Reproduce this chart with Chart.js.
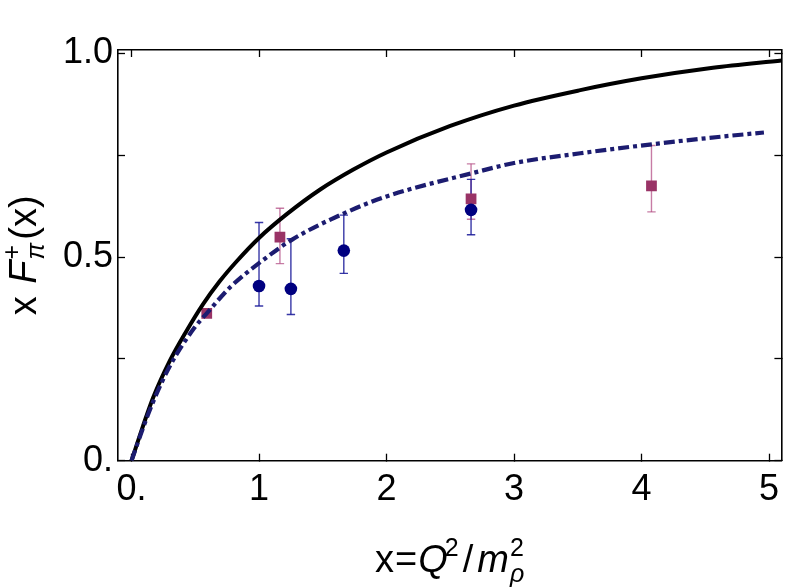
<!DOCTYPE html>
<html><head><meta charset="utf-8">
<script src="https://cdn.jsdelivr.net/npm/chart.js@4.4.0/dist/chart.umd.min.js"></script>
<style>html,body{margin:0;padding:0;background:#fff;}canvas{display:block;}</style>
</head><body>
<canvas id="c" width="789" height="587"></canvas>
<script>
// ---- axes ----
const xTicks = [0, 1, 2, 3, 4, 5];
const xTickLabels = ['0.', '1', '2', '3', '4', '5'];
const yTicks = [0, 0.25, 0.5, 0.75, 1.0];
const yTickLabels = ['0.', '', '0.5', '', '1.0'];
const xRange = [-0.106, 5.097];
const yRange = [0, 1.0086];

// ---- solid black curve ----
const solidX = [0, 0.09, 0.17, 0.3, 0.43, 0.56, 0.69, 0.82, 1.0, 1.22, 1.48, 1.74, 2.0, 2.5, 3.0, 3.52, 4.0, 4.56, 5.1];
const solidY = [0, 0.085, 0.155, 0.245, 0.318, 0.384, 0.440, 0.488, 0.547, 0.606, 0.666, 0.715, 0.757, 0.822, 0.872, 0.910, 0.939, 0.965, 0.983];

// ---- dash-dotted blue curve ----
const dashX = [0, 0.09, 0.17, 0.3, 0.49, 0.59, 0.78, 1.0, 1.26, 1.67, 2.0, 2.67, 3.0, 3.52, 4.08, 4.6, 4.96];
const dashY = [0, 0.08, 0.145, 0.232, 0.325, 0.362, 0.428, 0.485, 0.543, 0.608, 0.649, 0.706, 0.731, 0.755, 0.777, 0.795, 0.806];

// ---- circles (navy) ----
const circX  = [1.0, 1.25, 1.665, 2.663];
const circY  = [0.429, 0.422, 0.516, 0.616];
const circLo = [0.380, 0.359, 0.460, 0.555];
const circHi = [0.585, 0.545, 0.603, 0.691];

// ---- squares (magenta) ----
const sqX  = [0.59, 1.164, 2.663, 4.078];
const sqY  = [0.362, 0.549, 0.643, 0.675];
const sqLo = [0.354, 0.484, 0.593, 0.611];
const sqHi = [0.370, 0.620, 0.729, 0.774];

function pts(xs, ys) { return xs.map((x, i) => ({x: x, y: ys[i]})); }
function errPts(xs, lo, hi) {
  const out = [];
  xs.forEach((x, i) => { out.push({x: x, y: lo[i]}, {x: x, y: hi[i]}, {x: x, y: null}); });
  return out;
}

const FAM = "'Liberation Sans', Arial, sans-serif";
const TICKFONT = {family: FAM, size: 36};

function fixBox(size, horiz) {
  return function (s) {
    if (horiz) s.height = size; else s.width = size;
    s.paddingLeft = s.paddingRight = s.paddingTop = s.paddingBottom = 0;
  };
}
const tickGrid = {drawOnChartArea: false, drawTicks: true, tickLength: -7, tickColor: '#000', tickWidth: 1.3};
const border = {display: true, color: '#000', width: 1.6};

function drawPieces(ctx, pieces, cx, baseY) {
  let total = 0;
  const widths = pieces.map(p => {
    if (p.stack) {
      let w = 0;
      p.stack.forEach(q => { ctx.font = q.font; w = Math.max(w, ctx.measureText(q.t).width); });
      return w + (p.gap || 0);
    }
    ctx.font = p.font; return ctx.measureText(p.t).width + (p.gap || 0);
  });
  widths.forEach(w => total += w);
  let x = cx - total / 2;
  pieces.forEach((p, i) => {
    const list = p.stack ? p.stack : [p];
    list.forEach(q => { ctx.font = q.font; ctx.fillText(q.t, x + (q.dx || 0), baseY + (q.dy || 0)); });
    x += widths[i];
  });
}

const titlePlugin = {
  id: 'titles',
  afterDraw(chart) {
    const ctx = chart.ctx, a = chart.chartArea;
    const F = 38, S = 25;
    const n = F + 'px ' + FAM, it = 'italic ' + F + 'px ' + FAM;
    const sn = S + 'px ' + FAM, sit = 'italic ' + S + 'px ' + FAM;
    ctx.save();
    ctx.fillStyle = '#000';
    ctx.textAlign = 'left';
    ctx.textBaseline = 'alphabetic';
    // x title
    drawPieces(ctx, [
      {t: 'x', font: n, gap: 1}, {t: '=', font: n, gap: 1}, {t: 'Q', font: it, gap: -3},
      {t: '2', font: sn, dy: -16, gap: 4}, {t: '/', font: n, gap: 4}, {t: 'm', font: it, gap: 1},
      {stack: [{t: '2', font: sn, dy: -16}, {t: '\u03C1', font: sit, dy: 10}]}
    ], (a.left + a.right) / 2, a.bottom + 111);
    // y title (rotated)
    ctx.translate(36, (a.top + a.bottom) / 2);
    ctx.rotate(-Math.PI / 2);
    drawPieces(ctx, [
      {t: 'x ', font: n, gap: 2}, {t: 'F', font: it, gap: 1},
      {stack: [{t: '+', font: sn, dy: -16}, {t: '\u03C0', font: sit, dy: 8}], gap: 3},
      {t: '(x)', font: n}
    ], 0, 0);
    ctx.restore();
  }
};

new Chart(document.getElementById('c'), {
  type: 'scatter',
  data: {
    datasets: [
      {data: pts(dashX, dashY), showLine: true, borderColor: '#1c1c70', borderWidth: 4.2,
       borderDash: [11, 4, 4, 4], pointRadius: 0, cubicInterpolationMode: 'monotone', order: 1},
      {data: pts(solidX, solidY), showLine: true, borderColor: '#000', borderWidth: 4,
       pointRadius: 0, cubicInterpolationMode: 'monotone', order: 2},
      {data: pts(circX, circY), pointStyle: 'circle', pointRadius: 6.3, pointBackgroundColor: '#000080',
       pointBorderColor: '#000080', pointBorderWidth: 0, order: 3},
      {data: pts(sqX, sqY), pointStyle: 'rect', pointRadius: 7.6, pointBackgroundColor: '#993366',
       pointBorderColor: '#993366', pointBorderWidth: 0, order: 3},
      {data: errPts(circX, circLo, circHi), showLine: true, spanGaps: false, borderColor: 'rgba(20,20,150,0.85)',
       borderWidth: 1.4, pointStyle: 'line', pointRadius: 4.2, pointBorderColor: 'rgba(20,20,150,0.85)',
       pointBorderWidth: 1.4, order: 5},
      {data: errPts(sqX, sqLo, sqHi), showLine: true, spanGaps: false, borderColor: 'rgba(180,80,135,0.75)',
       borderWidth: 1.4, pointStyle: 'line', pointRadius: 4.2, pointBorderColor: 'rgba(180,80,135,0.75)',
       pointBorderWidth: 1.4, order: 5}
    ]
  },
  options: {
    responsive: false,
    animation: false,
    layout: {padding: 0},
    plugins: {legend: {display: false}, tooltip: {enabled: false}},
    scales: {
      x: {type: 'linear', position: 'bottom', min: xRange[0], max: xRange[1],
          afterBuildTicks: s => { s.ticks = xTicks.map(v => ({value: v})); },
          afterFit: fixBox(587 - 460.7, true),
          ticks: {callback: (v, i) => xTickLabels[i], font: TICKFONT, color: '#000', padding: 15,
                  maxRotation: 0, minRotation: 0, autoSkip: false},
          grid: tickGrid, border: border},
      x2: {type: 'linear', position: 'top', min: xRange[0], max: xRange[1],
          afterBuildTicks: s => { s.ticks = xTicks.map(v => ({value: v})); },
          afterFit: fixBox(50, true),
          ticks: {display: false}, grid: tickGrid, border: border},
      y: {type: 'linear', position: 'left', min: yRange[0], max: yRange[1],
          afterBuildTicks: s => { s.ticks = yTicks.map(v => ({value: v})); },
          afterFit: fixBox(118, false),
          ticks: {callback: (v, i) => yTickLabels[i], font: TICKFONT, color: '#000', padding: 12, autoSkip: false},
          grid: tickGrid, border: border},
      y2: {type: 'linear', position: 'right', min: yRange[0], max: yRange[1],
          afterBuildTicks: s => { s.ticks = yTicks.map(v => ({value: v})); },
          afterFit: fixBox(7, false),
          ticks: {display: false}, grid: tickGrid, border: border}
    }
  },
  plugins: [titlePlugin]
});
</script>
</body></html>
